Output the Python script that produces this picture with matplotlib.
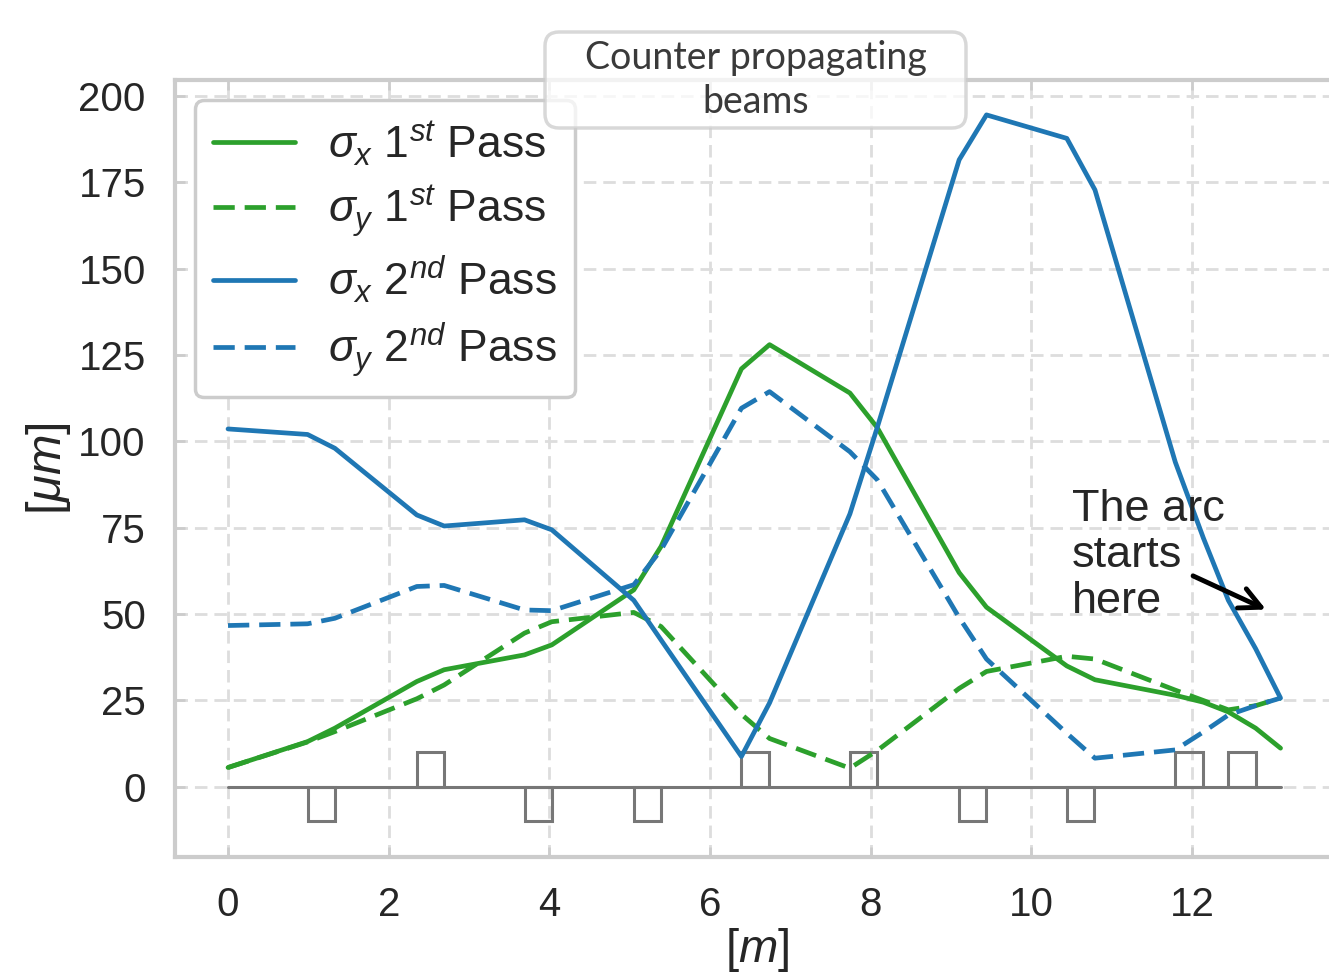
import numpy as np
import matplotlib
matplotlib.use('Agg')
import matplotlib.pyplot as plt
from matplotlib.patches import FancyBboxPatch
from matplotlib.transforms import IdentityTransform
import seaborn as sns

# longitudinal positions [m] where the beam sizes were evaluated
s = [0.0, 0.99, 1.33, 2.35, 2.69, 3.69, 4.03, 5.05, 5.39, 6.39, 6.74,
     7.74, 8.08, 9.10, 9.44, 10.44, 10.79, 11.79, 12.14, 12.45, 12.79, 13.10]

# beam sizes [um]
sigx_1st = [5.6, 13.1, 17.0, 30.5, 33.9, 38.2, 41.1, 57.0, 69.6, 121.0, 128.0,
            114.0, 104.0, 62.0, 52.0, 35.0, 31.0, 26.5, 24.5, 21.7, 17.0, 11.2]
sigy_1st = [5.6, 13.0, 16.0, 25.5, 29.5, 44.5, 47.8, 50.5, 46.4, 21.0, 14.0,
            5.4, 10.5, 28.5, 33.4, 37.8, 37.0, 28.0, 25.0, 22.3, 23.5, 25.7]
sigx_2nd = [103.6, 102.0, 98.0, 78.7, 75.5, 77.3, 74.4, 54.0, 42.5, 8.8, 24.3,
            79.0, 104.0, 181.5, 194.5, 187.7, 172.8, 94.0, 72.0, 54.0, 40.0, 25.7]
sigy_2nd = [46.7, 47.2, 48.8, 58.0, 58.3, 51.2, 51.0, 58.5, 68.6, 109.6, 114.4,
            97.0, 88.9, 49.0, 37.0, 15.5, 8.3, 10.7, 15.9, 20.8, 23.5, 25.7]

# quadrupoles: entrance position [m], +1 focusing / -1 defocusing
quad_start = [0.99, 2.35, 3.69, 5.05, 6.39, 7.74, 9.10, 10.44, 11.79, 12.45]
quad_sign = [-1, 1, -1, -1, 1, 1, -1, -1, 1, 1]
quad_len = 0.34
quad_h = 10

labels = [r'$\sigma_x$ $1^{st}$ Pass', r'$\sigma_y$ $1^{st}$ Pass',
          r'$\sigma_x$ $2^{nd}$ Pass', r'$\sigma_y$ $2^{nd}$ Pass']
colors = ['#2ca02c', '#2ca02c', '#1f77b4', '#1f77b4']
dash = (0, (4.5, 2.1))
ls = ['-', dash, '-', dash]

fontsize = 29
lw = 3.4

sns.set_style('whitegrid')
plt.rcParams['font.family'] = ['Liberation Sans', 'DejaVu Sans']
plt.rcParams['mathtext.fontset'] = 'custom'
plt.rcParams['mathtext.rm'] = 'Liberation Sans'
plt.rcParams['mathtext.it'] = 'Liberation Sans:italic'
plt.rcParams['mathtext.bf'] = 'Liberation Sans:bold'
plt.rcParams.update({'font.size': fontsize})

fig = plt.figure(figsize=(13.29, 9.76), dpi=100)
ax = fig.add_axes([175 / 1329, 119 / 976, 1165 / 1329, 777 / 976])

# magnet layout
ax.plot([s[0], s[-1]], [0, 0], color='#777777', lw=2.2, zorder=2)
ax.bar(quad_start, np.array(quad_sign) * quad_h, width=quad_len, align='edge',
       fill=False, edgecolor='#777777', linewidth=2.2, zorder=2)

for i, y in enumerate([sigx_1st, sigy_1st, sigx_2nd, sigy_2nd]):
    ax.plot(s, y, color=colors[i], linestyle=ls[i], linewidth=lw, label=labels[i], zorder=3)

ax.set_xlim(-0.66, 13.84)
ax.set_ylim(-20.3, 204.6)
ax.set_xticks(np.arange(0, 13, 2))
ax.set_yticks(np.arange(0, 201, 25))
ax.grid(True, color='#dddddd', linestyle=(0, (4.5, 2.5)), linewidth=2)
for sp in ax.spines.values():
    sp.set_color('#cccccc')
    sp.set_linewidth(3)
ax.tick_params(direction='in', length=7, width=2, color='#cccccc', labelcolor='#262626',
               top=True, bottom=True, left=True, pad=21, labelsize=fontsize)
ax.set_xlabel(r'$[m]$', labelpad=1, color='#262626', fontsize=34)
ax.set_ylabel(r'$[\mu m]$', labelpad=4, color='#262626', fontsize=35)

leg = ax.legend(loc='upper left', bbox_to_anchor=(195 / 1329, 1 - 100 / 976),
                bbox_transform=fig.transFigure, borderaxespad=0, fontsize=32,
                handlelength=1.85, handletextpad=0.75, labelspacing=0.34,
                borderpad=0.4, fancybox=True, framealpha=1)
leg.get_frame().set_edgecolor('#cccccc')
leg.get_frame().set_linewidth(2.5)
for t in leg.get_texts():
    t.set_color('#262626')

ax.text(10.5, 50.4, 'The arc\nstarts\nhere', fontsize=32.5, color='#262626',
        ha='left', va='baseline', linespacing=1.16, zorder=4)
ax.annotate('', xy=(12.95, 51.0), xytext=(11.98, 61.4),
            arrowprops=dict(arrowstyle='->', lw=3.5, color='black', mutation_scale=38), zorder=4)

box = FancyBboxPatch((545, 976 - 128), 421, 96, boxstyle='round,pad=0,rounding_size=14',
                     transform=IdentityTransform(), facecolor='white', alpha=0.75,
                     edgecolor='#cccccc', linewidth=2.5, zorder=5)
fig.add_artist(box)
fig.text(756 / 1329, 1 - 80 / 976, 'Counter propagating\nbeams', fontfamily='Lato',
         fontsize=27, color='#3a3a3a', ha='center', va='center',
         linespacing=1.28, zorder=6)

plt.savefig('out.png', dpi=100)
plt.close()
